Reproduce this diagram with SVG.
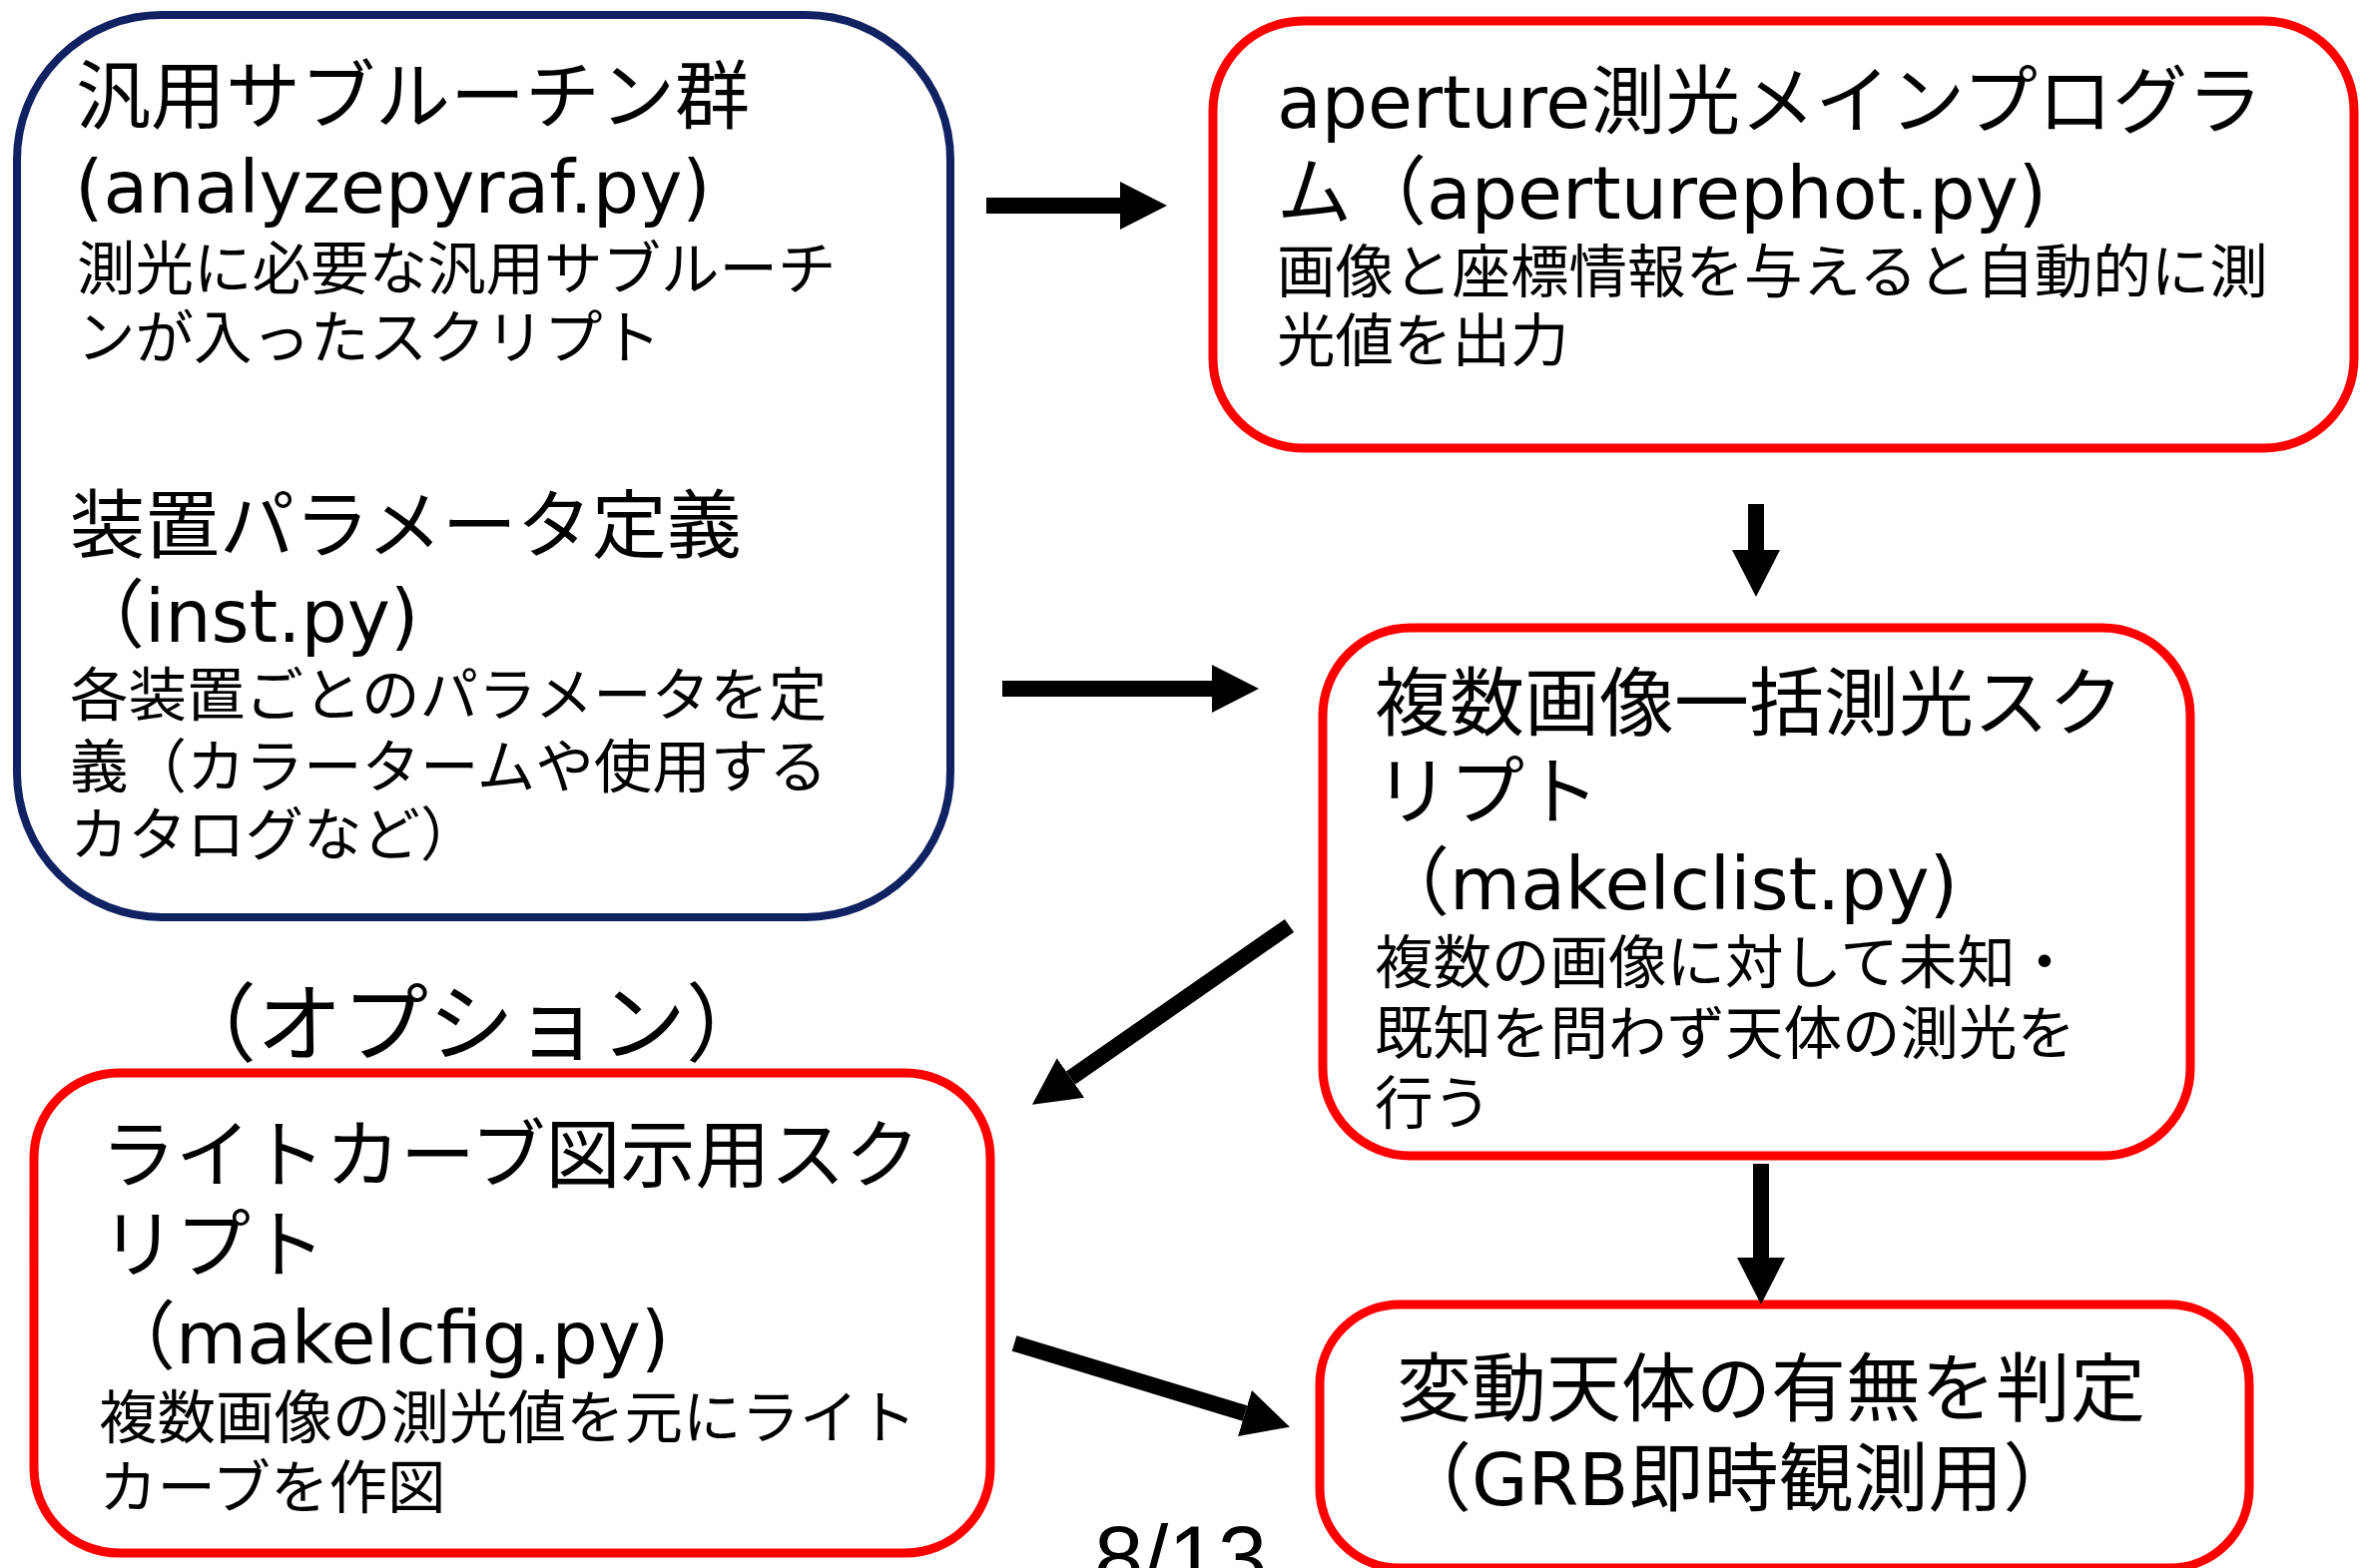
<svg xmlns="http://www.w3.org/2000/svg" width="2367" height="1571" viewBox="0 0 2367 1571">
<style>
text{font-family:"DejaVu Sans","Noto Sans CJK JP",sans-serif;fill:#000}
.t{font-size:75px}
.s{font-size:58.5px}
.lat{font-family:"DejaVu Sans",sans-serif;font-size:73px}
.red{fill:#fff;stroke:#ff0000;stroke-width:9}
.navy{fill:#fff;stroke:#102262;stroke-width:8}
.arr{stroke:#000;stroke-width:16;fill:none;marker-end:url(#ah)}
</style>
<defs>
<marker id="ah" markerUnits="userSpaceOnUse" viewBox="0 0 47 48" markerWidth="47" markerHeight="48" refX="0" refY="24" orient="auto">
<path d="M0,0 L47,24 L0,48 z" fill="#000"/>
</marker>
</defs>
<rect width="2367" height="1571" fill="#fff"/>

<g id="node-common">
<rect class="navy" x="17" y="15" width="935" height="904" rx="145" ry="145"/>
<text class="t" x="76" y="123">汎用サブルーチン群</text>
<text class="lat" x="75" y="213">(analyzepyraf.py)</text>
<text class="s" x="77" y="290">測光に必要な汎用サブルーチ</text>
<text class="s" x="77" y="359">ンが入ったスクリプト</text>
<text class="t" x="70" y="553">装置パラメータ定義</text>
<text class="t" x="70" y="643">（<tspan class="lat">inst.py)</tspan></text>
<text class="s" x="70" y="717">各装置ごとのパラメータを定</text>
<text class="s" x="70" y="789">義（カラータームや使用する</text>
<text class="s" x="70" y="857">カタログなど）</text>
</g>

<g id="node-aperture">
<rect class="red" x="1215" y="21" width="1143" height="428" rx="90" ry="90"/>
<text class="t" x="1279" y="128"><tspan class="lat">aperture</tspan>測光メインプログラ</text>
<text class="t" x="1279" y="219">ム（<tspan class="lat">aperturephot.py)</tspan></text>
<text class="s" x="1279" y="293">画像と座標情報を与えると自動的に測</text>
<text class="s" x="1279" y="362">光値を出力</text>
</g>

<g id="node-makelclist">
<rect class="red" x="1325" y="629" width="869" height="529" rx="88" ry="88"/>
<text class="t" x="1377" y="731">複数画像一括測光スク</text>
<text class="t" x="1377" y="820">リプト</text>
<text class="t" x="1377" y="911">（<tspan class="lat">makelclist.py)</tspan></text>
<text class="s" x="1377" y="985">複数の画像に対して未知・</text>
<text class="s" x="1377" y="1056">既知を問わず天体の測光を</text>
<text class="s" x="1377" y="1126">行う</text>
</g>

<g id="node-option-label">
<text x="171" y="1057" style="font-size:86px">（オプション）</text>
</g>

<g id="node-makelcfig">
<rect class="red" x="34" y="1075" width="958" height="481" rx="85" ry="85"/>
<text class="t" x="101" y="1184">ライトカーブ図示用スク</text>
<text class="t" x="101" y="1274">リプト</text>
<text class="t" x="101" y="1366">（<tspan class="lat">makelcfig.py)</tspan></text>
<text class="s" x="99" y="1441">複数画像の測光値を元にライト</text>
<text class="s" x="99" y="1511">カーブを作図</text>
</g>

<g id="node-judge">
<rect class="red" x="1322" y="1307" width="931" height="264" rx="80" ry="80"/>
<text class="t" x="1399" y="1418">変動天体の有無を判定</text>
<text class="t" x="1399" y="1508">（<tspan class="lat">GRB</tspan>即時観測用）</text>
</g>

<g id="page-number">
<text x="1096" y="1591" style="font-family:'Liberation Sans',sans-serif;font-size:89px">8/13</text>
</g>

<g id="connectors">
<line class="arr" x1="988" y1="206" x2="1122" y2="206"/>
<line class="arr" x1="1004" y1="690" x2="1214" y2="690"/>
<line class="arr" x1="1759" y1="505" x2="1759" y2="551"/>
<line class="arr" x1="1291.5" y1="927.5" x2="1072.5" y2="1080"/>
<line class="arr" x1="1764" y1="1166" x2="1764" y2="1260"/>
<line class="arr" x1="1016" y1="1346" x2="1247" y2="1416"/>
</g>
</svg>
